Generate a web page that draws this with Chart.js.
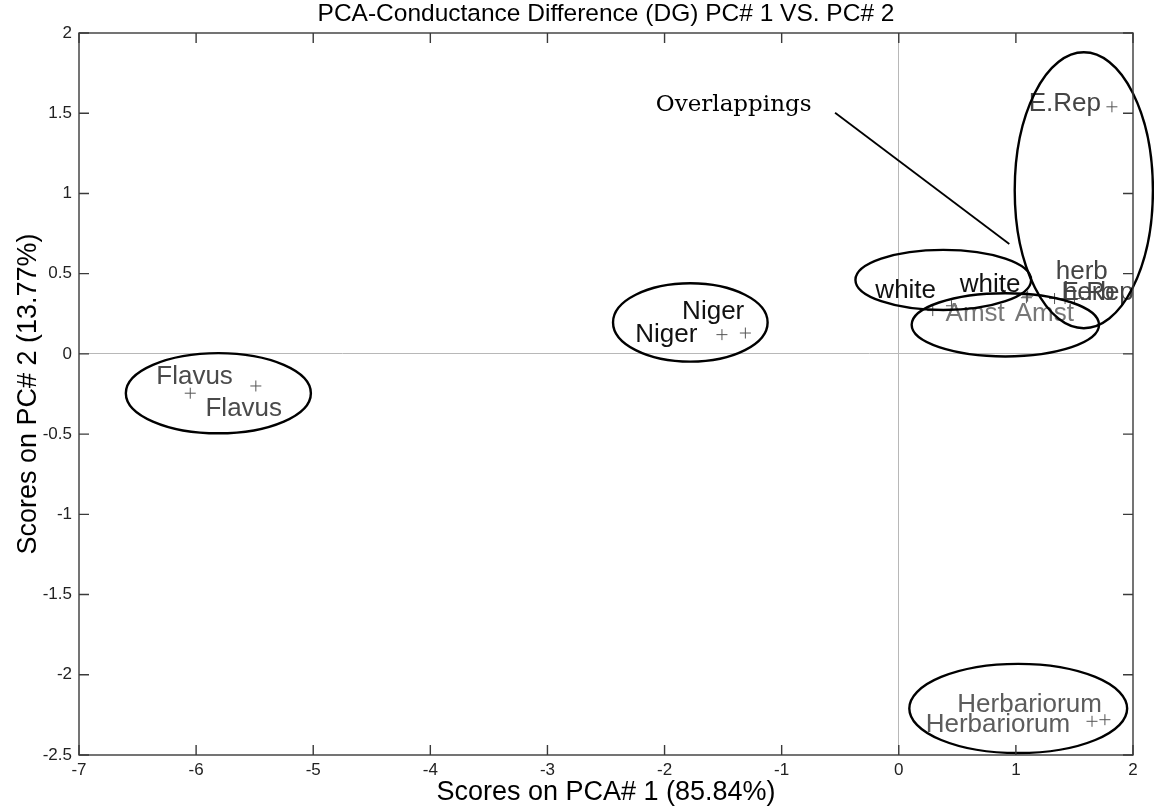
<!DOCTYPE html>
<html>
<head>
<meta charset="utf-8">
<title>PCA-Conductance Difference (DG) PC# 1 VS. PC# 2</title>
<script src="https://cdn.jsdelivr.net/npm/chart.js@4.4.1/dist/chart.umd.min.js"></script>
<style>
  html, body { margin: 0; padding: 0; background: #fff; }
  #wrap { width: 1154px; height: 809px; }
</style>
</head>
<body>
<div id="wrap"><canvas id="pcaChart" width="1154" height="809"></canvas></div>
<script>
// ==========================================
// DATA (scores)
// ==========================================

// PC#1 / PC#2 scores per sample group (two replicates each)
const flavusPC1 = [-6.05, -5.49];
const flavusPC2 = [-0.245, -0.20];
const nigerPC1 = [-1.51, -1.31];
const nigerPC2 = [0.12, 0.13];
const whitePC1 = [0.29, 1.09];
const whitePC2 = [0.27, 0.35];
const amstPC1 = [0.45, 1.10];
const amstPC2 = [0.30, 0.36];
const herbPC1 = [1.33, 1.50];
const herbPC2 = [0.345, 0.345];
const eRepPC1 = [1.82, 1.42];
const eRepPC2 = [1.54, 0.345];
const herbariorumPC1 = [1.65, 1.76];
const herbariorumPC2 = [-2.29, -2.28];

// text labels, anchored (left edge, middle) in score units
const labelTexts = ['Flavus', 'Flavus', 'Niger', 'Niger', 'white', 'white', 'Amst', 'Amst',
                    'herb', 'herb', 'E.Rep', 'E.Rep', 'Herbariorum', 'Herbariorum'];
const labelPC1 = [-6.34, -5.92, -1.85, -2.25, -0.20, 0.52, 0.40, 0.99,
                  1.34, 1.40, 1.39, 1.11, 0.50, 0.23];
const labelPC2 = [-0.14, -0.34, 0.26, 0.12, 0.39, 0.43, 0.25, 0.25,
                  0.51, 0.38, 0.38, 1.56, -2.19, -2.31];

// group ellipses: centre and half-axes in score units
const ellipseCenterPC1 = [-5.81, -1.78, 0.38, 0.91, 1.58, 1.02];
const ellipseCenterPC2 = [-0.245, 0.196, 0.461, 0.181, 1.02, -2.21];
const ellipseRadiusPC1 = [0.79, 0.66, 0.75, 0.80, 0.59, 0.93];
const ellipseRadiusPC2 = [0.25, 0.244, 0.187, 0.197, 0.86, 0.278];

// "Overlappings" callout
const noteText = 'Overlappings';
const notePC1 = -1.41;
const notePC2 = 1.55;
const notePointerFrom = [-0.544, 1.503];
const notePointerTo = [0.944, 0.685];

// axis ticks
const pc1Ticks = [-7, -6, -5, -4, -3, -2, -1, 0, 1, 2];
const pc2Ticks = [-2.5, -2, -1.5, -1, -0.5, 0, 0.5, 1, 1.5, 2];

// ==========================================
// STYLE
// ==========================================
const labelColors = ['#4a4a4a', '#4a4a4a', '#111', '#111', '#111', '#111', '#777', '#777',
                     '#444', '#444', '#444', '#444', '#5c5c5c', '#5c5c5c'];
const SANS = '"Liberation Sans", Arial, sans-serif';
const FRAME = '#3a3a3a';

function toPoints(xs, ys) {
    return xs.map((x, i) => ({ x: x, y: ys[i] }));
}

const groups = [
    ['Flavus', flavusPC1, flavusPC2],
    ['Niger', nigerPC1, nigerPC2],
    ['white', whitePC1, whitePC2],
    ['Amst', amstPC1, amstPC2],
    ['herb', herbPC1, herbPC2],
    ['E.Rep', eRepPC1, eRepPC2],
    ['Herbariorum', herbariorumPC1, herbariorumPC2]
];

// labels, ellipses, callout and the MATLAB style box with inward ticks
const annotatePlugin = {
    id: 'annotate',
    afterDatasetsDraw(chart) {
        const ctx = chart.ctx;
        const sx = chart.scales.x;
        const sy = chart.scales.y;
        const area = chart.chartArea;
        ctx.save();

        // point labels
        ctx.font = '26px ' + SANS;
        ctx.textAlign = 'left';
        ctx.textBaseline = 'middle';
        labelTexts.forEach((t, i) => {
            ctx.fillStyle = labelColors[i];
            ctx.fillText(t, sx.getPixelForValue(labelPC1[i]), sy.getPixelForValue(labelPC2[i]));
        });

        // group ellipses
        ctx.strokeStyle = '#000';
        ctx.lineWidth = 2.4;
        ellipseCenterPC1.forEach((cx, i) => {
            const px = sx.getPixelForValue(cx);
            const py = sy.getPixelForValue(ellipseCenterPC2[i]);
            const rx = Math.abs(sx.getPixelForValue(cx + ellipseRadiusPC1[i]) - px);
            const ry = Math.abs(sy.getPixelForValue(ellipseCenterPC2[i] + ellipseRadiusPC2[i]) - py);
            ctx.beginPath();
            ctx.ellipse(px, py, rx, ry, 0, 0, Math.PI * 2);
            ctx.stroke();
        });

        // callout text + pointer line
        ctx.font = '23px "DejaVu Serif", serif';
        ctx.fillStyle = '#000';
        ctx.textAlign = 'center';
        ctx.fillText(noteText, sx.getPixelForValue(notePC1), sy.getPixelForValue(notePC2));
        ctx.lineWidth = 1.8;
        ctx.beginPath();
        ctx.moveTo(sx.getPixelForValue(notePointerFrom[0]), sy.getPixelForValue(notePointerFrom[1]));
        ctx.lineTo(sx.getPixelForValue(notePointerTo[0]), sy.getPixelForValue(notePointerTo[1]));
        ctx.stroke();

        // box
        ctx.strokeStyle = FRAME;
        ctx.lineWidth = 1.4;
        ctx.strokeRect(area.left, area.top, area.right - area.left, area.bottom - area.top);

        // inward ticks on all four sides
        const tickLen = 10;
        ctx.beginPath();
        pc1Ticks.forEach(v => {
            const p = sx.getPixelForValue(v);
            ctx.moveTo(p, area.bottom); ctx.lineTo(p, area.bottom - tickLen);
            ctx.moveTo(p, area.top); ctx.lineTo(p, area.top + tickLen);
        });
        pc2Ticks.forEach(v => {
            const p = sy.getPixelForValue(v);
            ctx.moveTo(area.left, p); ctx.lineTo(area.left + tickLen, p);
            ctx.moveTo(area.right, p); ctx.lineTo(area.right - tickLen, p);
        });
        ctx.stroke();
        ctx.restore();
    }
};

// only the zero lines are drawn from the grid
function zeroLine(c) {
    return c.tick && c.tick.value === 0 ? '#b8b8b8' : 'rgba(0,0,0,0)';
}

new Chart(document.getElementById('pcaChart').getContext('2d'), {
    type: 'scatter',
    data: {
        datasets: groups.map(g => ({
            label: g[0],
            data: toPoints(g[1], g[2]),
            pointStyle: 'cross',
            pointRadius: 5.5,
            borderColor: '#555',
            backgroundColor: '#555',
            borderWidth: 1
        }))
    },
    options: {
        responsive: false,
        animation: false,
        events: [],
        layout: { padding: { top: 0, left: 0, right: 21, bottom: 0 } },
        plugins: {
            legend: { display: false },
            tooltip: { enabled: false },
            title: {
                display: true,
                fullSize: false,   // centre over the plot box, like MATLAB
                text: 'PCA-Conductance Difference (DG) PC# 1 VS. PC# 2',
                color: '#000',
                font: { family: SANS, size: 24.5, weight: 'normal' },
                padding: { top: 0, bottom: 3.6 }
            }
        },
        scales: {
            x: {
                type: 'linear',
                position: 'bottom',
                min: -7,
                max: 2,
                afterFit: s => { s.height = 54; },
                afterBuildTicks: s => { s.ticks = pc1Ticks.map(v => ({ value: v })); },
                ticks: {
                    color: '#222',
                    padding: 5,
                    font: { family: SANS, size: 17 },
                    callback: v => String(v)
                },
                grid: { color: zeroLine, lineWidth: 1, drawTicks: false },
                border: { display: false },
                title: {
                    display: true,
                    text: 'Scores on PCA# 1 (85.84%)',
                    color: '#000',
                    font: { family: SANS, size: 27 },
                    padding: { top: 0, bottom: 0 }
                }
            },
            y: {
                type: 'linear',
                position: 'left',
                min: -2.5,
                max: 2,
                afterFit: s => { s.width = 79; },
                afterBuildTicks: s => { s.ticks = pc2Ticks.map(v => ({ value: v })); },
                ticks: {
                    color: '#222',
                    padding: 7,
                    font: { family: SANS, size: 17 },
                    callback: v => String(v)
                },
                grid: { color: zeroLine, lineWidth: 1, drawTicks: false },
                border: { display: false },
                title: {
                    display: true,
                    text: 'Scores on PC# 2 (13.77%)',
                    color: '#000',
                    font: { family: SANS, size: 27 },
                    padding: { top: 12, bottom: 0 }
                }
            }
        }
    },
    plugins: [annotatePlugin]
});
</script>
</body>
</html>
